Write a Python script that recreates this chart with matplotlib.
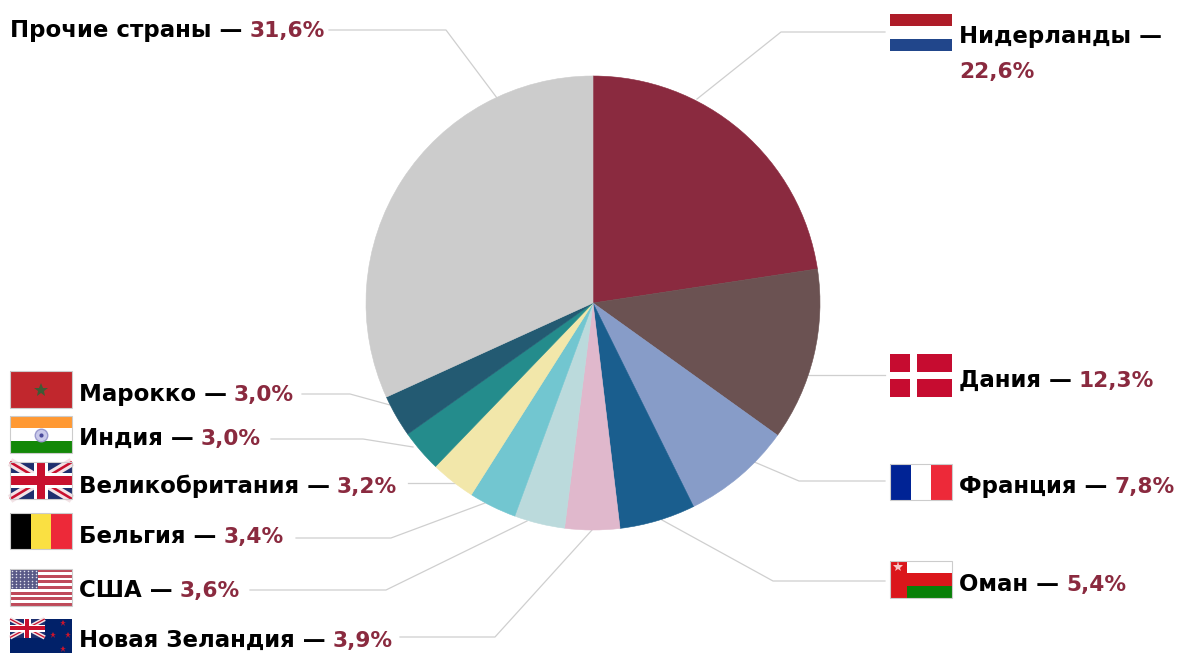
import matplotlib
matplotlib.use('Agg')
import matplotlib.pyplot as plt
from matplotlib.patches import Rectangle

plt.rcParams['font.family'] = ['DejaVu Sans']

countries = ['Нидерланды', 'Дания', 'Франция', 'Оман', 'Новая Зеландия', 'США',
             'Бельгия', 'Великобритания', 'Индия', 'Марокко', 'Прочие страны']
shares = [22.6, 12.3, 7.8, 5.4, 3.9, 3.6, 3.4, 3.2, 3.0, 3.0, 31.6]
# the printed shares are rounded, the grey slice takes up the missing 0.2
slices = [22.6, 12.3, 7.8, 5.4, 3.9, 3.6, 3.4, 3.2, 3.0, 3.0, 31.8]
colors = ['#8a2a3f', '#6b5252', '#879cc8', '#1a5e8e', '#e0b8cc', '#bbdadc',
          '#72c6d0', '#f2e7aa', '#248c8c', '#235a72', '#cccccc']

VALUE_COLOR = '#8a2a3f'
FS_NAME = 16.5
FS_VALUE = 15.6

fig = plt.figure(figsize=(11.77, 6.53), dpi=100)
ax = fig.add_axes([0, 0, 1, 1])

# y axis is flipped below, so this runs clockwise from 12 o'clock on screen
wedges, _ = ax.pie(slices, colors=colors, center=(593, 303), radius=227, startangle=-90,
                   counterclock=True, wedgeprops={'zorder': 2})
for w in wedges:
    w.set_edgecolor(w.get_facecolor())
    w.set_linewidth(0.4)
ax.set_xlim(0, 1177)
ax.set_ylim(653, 0)
ax.set_aspect('auto')
ax.axis('off')

# leader lines
leaders = [
    [(697, 99), (781, 32), (885, 32)],
    [(808, 375), (885, 375)],
    [(752, 461), (799, 481), (885, 481)],
    [(662, 520), (773, 581), (885, 581)],
    [(592, 530), (495, 637), (400, 637)],
    [(527, 521), (386, 590), (250, 590)],
    [(485, 503), (391, 538), (296, 538)],
    [(455, 483), (408, 483)],
    [(413, 447), (363, 439), (271, 439)],
    [(390, 405), (350, 394), (302, 394)],
    [(497, 98), (446, 30), (329, 30)],
]
for pts in leaders:
    ax.plot([p[0] for p in pts], [p[1] for p in pts], color='#cfcfcf', lw=0.9, zorder=1)


def rect(x, y, w, h, c, z=3):
    ax.add_patch(Rectangle((x, y), w, h, fc=c, ec='none', zorder=z))


def frame(x, y, w, h):
    ax.add_patch(Rectangle((x, y), w, h, fc='none', ec='#cccccc', lw=0.8, zorder=6))


def union_jack(x, y, w, h, z=3):
    rect(x, y, w, h, '#1f2f6e', z)
    for a, b in [((x, y), (x + w, y + h)), ((x, y + h), (x + w, y))]:
        ax.plot([a[0], b[0]], [a[1], b[1]], color='#f3e3e6', lw=h * 0.17, zorder=z, solid_capstyle='butt')
        ax.plot([a[0], b[0]], [a[1], b[1]], color='#c8102e', lw=h * 0.05, zorder=z, solid_capstyle='butt')
    rect(x + w * 0.39, y, w * 0.22, h, 'white', z)
    rect(x, y + h * 0.31, w, h * 0.38, 'white', z)
    rect(x + w * 0.44, y, w * 0.12, h, '#c8102e', z)
    rect(x, y + h * 0.38, w, h * 0.24, '#c8102e', z)


def flag_nl(x, y, w, h):
    rect(x, y, w, h / 3, '#ae1c28')
    rect(x, y + h / 3, w, h / 3, 'white')
    rect(x, y + 2 * h / 3, w, h / 3, '#21468b')


def flag_dk(x, y, w, h):
    rect(x, y, w, h, '#c60c30')
    rect(x + w * 0.32, y, w * 0.11, h, 'white')
    rect(x, y + h * 0.42, w, h * 0.16, 'white')


def flag_fr(x, y, w, h):
    rect(x, y, w / 3, h, '#002395')
    rect(x + w / 3, y, w / 3, h, 'white')
    rect(x + 2 * w / 3, y, w / 3, h, '#ed2939')
    frame(x, y, w, h)


def flag_om(x, y, w, h):
    rect(x, y, w, h, '#db161b')
    rect(x + w * 0.27, y, w * 0.73, h / 3, 'white')
    rect(x + w * 0.27, y + 2 * h / 3, w * 0.73, h / 3, '#088008')
    ax.plot([x + w * 0.13], [y + h * 0.17], marker='*', ms=8, color='#f6c8c8', mew=0, zorder=4)
    frame(x, y, w, h)


def flag_nz(x, y, w, h):
    rect(x, y, w, 653 - y, '#012169')
    union_jack(x, y, w * 0.56, h * 0.5, 4)
    for fx, fy in [(0.85, 0.12), (0.70, 0.42), (0.93, 0.42), (0.85, 0.80)]:
        ax.plot([x + w * fx], [y + h * fy], marker='*', ms=5, color='#cc142b', mew=0, zorder=5)


def flag_us(x, y, w, h):
    rect(x, y, w, h, 'white')
    for i in range(7):
        rect(x, y + i * 2 * h / 13, w, h / 13, '#bf4a5a')
    rect(x, y, w * 0.45, h * 7 / 13, '#5a5a88', 4)
    for r in range(6):
        for c in range(7):
            ax.plot([x + w * 0.45 * (c + 0.5) / 7], [y + h * 7 / 13 * (r + 0.5) / 6], marker='o', ms=1.1,
                    color='#e5e5ef', mew=0, zorder=5)
    frame(x, y, w, h)


def flag_be(x, y, w, h):
    rect(x, y, w / 3, h, 'black')
    rect(x + w / 3, y, w / 3, h, '#fae042')
    rect(x + 2 * w / 3, y, w / 3, h, '#ed2939')
    frame(x, y, w, h)


def flag_gb(x, y, w, h):
    union_jack(x, y, w, h)
    frame(x, y, w, h)


def flag_in(x, y, w, h):
    rect(x, y, w, h / 3, '#ff9933')
    rect(x, y + h / 3, w, h / 3, 'white')
    rect(x, y + 2 * h / 3, w, h / 3, '#138808')
    ax.plot([x + w / 2], [y + h / 2], marker='o', ms=9, mfc='#c9c9ea', mec='#9a9ace', mew=1, zorder=4)
    ax.plot([x + w / 2], [y + h / 2], marker='o', ms=3, color='#4a4a9a', mew=0, zorder=5)
    frame(x, y, w, h)


def flag_ma(x, y, w, h):
    rect(x, y, w, h, '#c1272d')
    ax.plot([x + w / 2], [y + h * 0.52], marker='*', ms=10, color='#3f5a35', mew=0, zorder=4)
    frame(x, y, w, h)


flag_nl(890, 14, 62, 37)
flag_dk(890, 354, 62, 43)
flag_fr(890, 464, 62, 36)
flag_om(890, 561, 62, 37)
flag_nz(10, 619, 62, 37)
flag_us(10, 569, 62, 37)
flag_be(10, 513, 62, 36)
flag_gb(10, 462, 62, 37)
flag_in(10, 416, 62, 37)
flag_ma(10, 371, 62, 37)


def pct(v):
    return f'{v:.1f}'.replace('.', ',') + '%'


# (country index, x, baseline y)
label_pos = [(1, 959, 387), (2, 959, 493), (3, 959, 591), (4, 79, 647), (5, 79, 597),
             (6, 79, 543), (7, 79, 493), (8, 79, 445), (9, 79, 401), (10, 10, 37)]
renderer = fig.canvas.get_renderer()
for i, x, y in label_pos:
    t = ax.text(x, y, countries[i] + ' —', fontsize=FS_NAME, fontweight='bold', color='black', va='baseline', zorder=7)
    right = t.get_window_extent(renderer).x1
    ax.text(right + 7, y, pct(shares[i]), fontsize=FS_VALUE, fontweight='bold', color=VALUE_COLOR, va='baseline', zorder=7)

# Нидерланды wraps onto two lines
ax.text(959, 43, countries[0] + ' —', fontsize=FS_NAME, fontweight='bold', color='black', va='baseline', zorder=7)
ax.text(959, 78, pct(shares[0]), fontsize=FS_VALUE, fontweight='bold', color=VALUE_COLOR, va='baseline', zorder=7)

fig.savefig('out.png', dpi=100)
